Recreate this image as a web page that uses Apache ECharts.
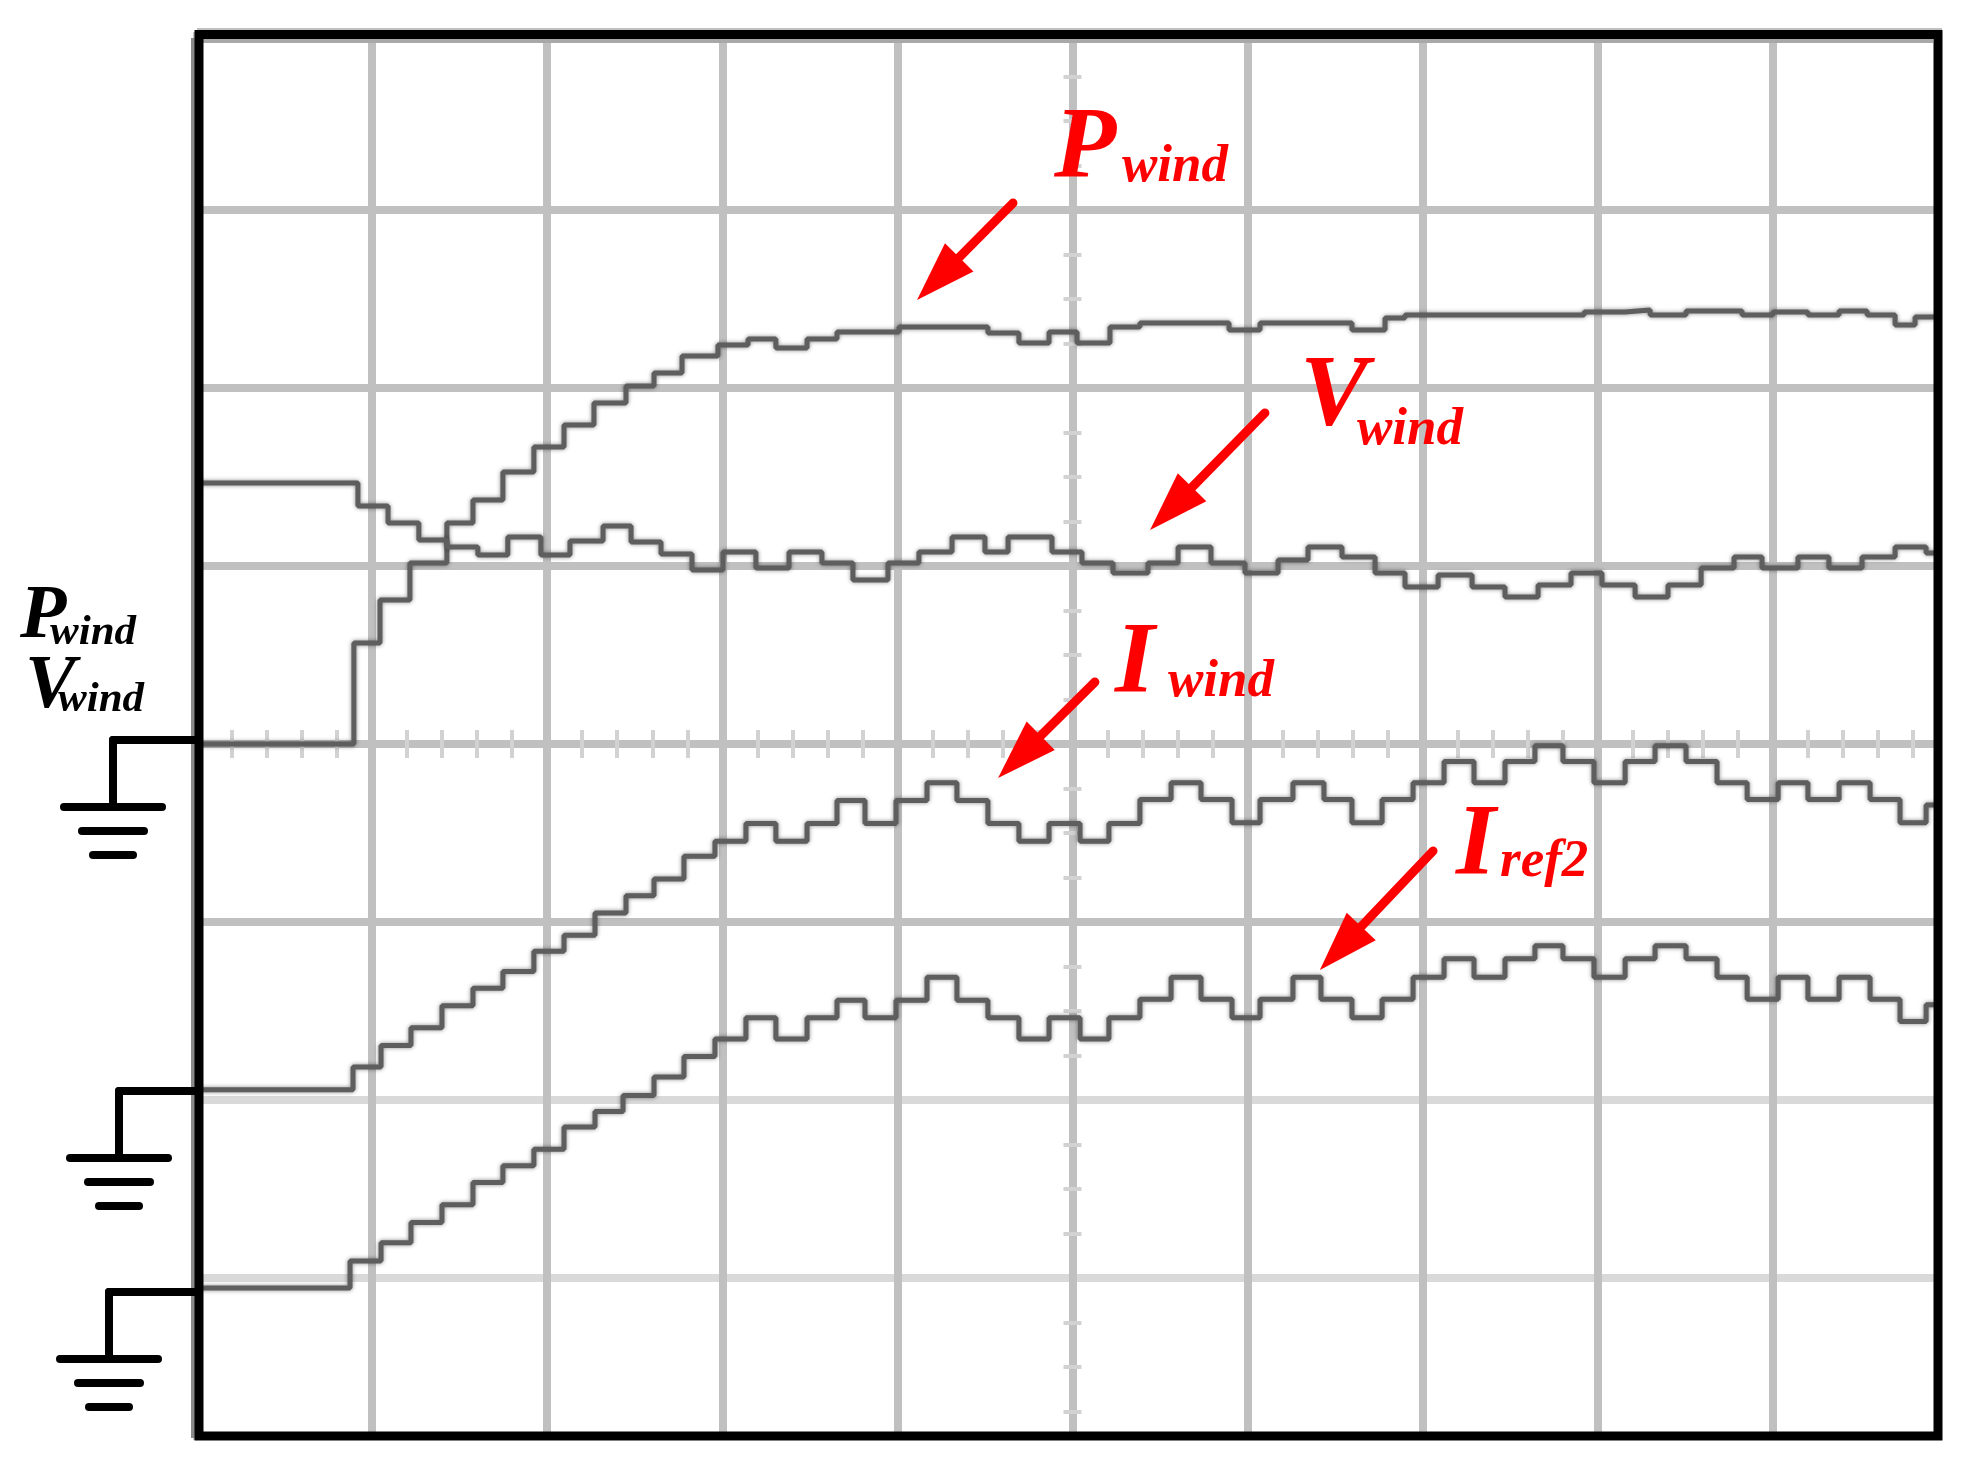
<!DOCTYPE html>
<html>
<head>
<meta charset="utf-8">
<script src="https://cdn.jsdelivr.net/npm/echarts@6/dist/echarts.min.js"></script>
<style>
  html, body { margin: 0; padding: 0; background: #fff; }
  #scope { width: 1977px; height: 1477px; }
</style>
</head>
<body>
<div id="scope"></div>
<script>
// scope traces: [time, level], both in screen divisions measured from the centre of the screen
const pwind = [[-5, 0], [-4.104, 0.567], [-3.955, 0.809], [-3.784, 1.017], [-3.573, 1.242], [-3.424, 1.371],
  [-3.253, 1.528], [-3.076, 1.669], [-2.904, 1.792], [-2.733, 1.916], [-2.550, 2.011], [-2.390, 2.084],
  [-2.230, 2.180], [-2.025, 2.242], [-1.853, 2.275], [-1.694, 2.225], [-1.516, 2.275], [-1.345, 2.315],
  [-0.991, 2.343], [-0.483, 2.309], [-0.306, 2.253], [-0.134, 2.315], [0.026, 2.253], [0.214, 2.343],
  [0.385, 2.365], [0.894, 2.326], [1.071, 2.365], [1.596, 2.326], [1.785, 2.393], [1.899, 2.410],
  [2.922, 2.427], [3.156, 2.438], [3.299, 2.410], [3.504, 2.433], [3.824, 2.410], [4.0, 2.427],
  [4.2, 2.410], [4.378, 2.433], [4.538, 2.410], [4.698, 2.354], [4.812, 2.399], [4.94, 2.399]];

const vwind = [[-5, 1.466], [-4.081, 1.337], [-3.909, 1.242], [-3.733, 1.146], [-3.573, 1.107], [-3.396, 1.062],
  [-3.225, 1.163], [-3.036, 1.062], [-2.870, 1.140], [-2.681, 1.225], [-2.521, 1.135], [-2.350, 1.067],
  [-2.173, 0.978], [-1.996, 1.079], [-1.808, 0.989], [-1.619, 1.079], [-1.431, 1.017], [-1.254, 0.921],
  [-1.054, 1.017], [-0.877, 1.079], [-0.688, 1.163], [-0.500, 1.079], [-0.368, 1.163], [-0.117, 1.079],
  [0.054, 1.017], [0.231, 0.961], [0.431, 1.017], [0.603, 1.107], [0.791, 1.017], [0.985, 0.961],
  [1.174, 1.034], [1.345, 1.107], [1.539, 1.051], [1.728, 0.961], [1.899, 0.882], [2.088, 0.949],
  [2.282, 0.882], [2.470, 0.826], [2.659, 0.893], [2.847, 0.961], [3.024, 0.893], [3.213, 0.826],
  [3.401, 0.893], [3.590, 0.989], [3.778, 1.051], [3.938, 0.989], [4.143, 1.051], [4.320, 0.989],
  [4.509, 1.051], [4.698, 1.107], [4.875, 1.073], [4.94, 1.073]];

const iwind = [[-5, -1.943], [-4.109, -1.815], [-3.949, -1.694], [-3.778, -1.594], [-3.601, -1.470],
  [-3.424, -1.372], [-3.253, -1.278], [-3.076, -1.164], [-2.904, -1.075], [-2.727, -0.950], [-2.550, -0.852],
  [-2.390, -0.759], [-2.219, -0.630], [-2.042, -0.547], [-1.865, -0.447], [-1.694, -0.547], [-1.516, -0.447],
  [-1.345, -0.318], [-1.185, -0.447], [-1.008, -0.318], [-0.831, -0.218], [-0.660, -0.318], [-0.483, -0.447],
  [-0.306, -0.547], [-0.134, -0.447], [0.043, -0.547], [0.208, -0.447], [0.385, -0.312], [0.563, -0.218],
  [0.734, -0.312], [0.911, -0.443], [1.071, -0.312], [1.259, -0.218], [1.436, -0.312], [1.596, -0.443],
  [1.768, -0.312], [1.945, -0.218], [2.122, -0.098], [2.293, -0.218], [2.470, -0.098], [2.641, -0.010],
  [2.801, -0.098], [2.978, -0.218], [3.156, -0.098], [3.327, -0.010], [3.504, -0.098], [3.681, -0.218],
  [3.853, -0.312], [4.030, -0.218], [4.200, -0.312], [4.378, -0.218], [4.555, -0.312], [4.726, -0.443],
  [4.875, -0.343], [4.94, -0.343]];

const iref2 = [[-5, -3.056], [-4.126, -2.904], [-3.949, -2.802], [-3.778, -2.688], [-3.601, -2.588],
  [-3.424, -2.463], [-3.253, -2.370], [-3.076, -2.276], [-2.904, -2.151], [-2.727, -2.064], [-2.567, -1.975],
  [-2.390, -1.871], [-2.219, -1.756], [-2.042, -1.657], [-1.865, -1.538], [-1.694, -1.657], [-1.516, -1.538],
  [-1.345, -1.440], [-1.185, -1.538], [-1.008, -1.440], [-0.831, -1.310], [-0.660, -1.440], [-0.483, -1.538],
  [-0.306, -1.657], [-0.134, -1.538], [0.043, -1.657], [0.208, -1.538], [0.385, -1.434], [0.563, -1.310],
  [0.734, -1.434], [0.911, -1.538], [1.071, -1.434], [1.259, -1.310], [1.419, -1.434], [1.596, -1.538],
  [1.768, -1.434], [1.945, -1.310], [2.122, -1.206], [2.293, -1.310], [2.470, -1.206], [2.641, -1.133],
  [2.801, -1.206], [2.978, -1.310], [3.156, -1.206], [3.327, -1.133], [3.504, -1.206], [3.681, -1.310],
  [3.853, -1.434], [4.030, -1.310], [4.200, -1.434], [4.378, -1.310], [4.555, -1.434], [4.726, -1.559],
  [4.875, -1.465], [4.94, -1.465]];

// channel ground levels (divisions)
const groundLevels = [0, -1.95, -3.05];

// arrow tails and tips (divisions), order: Pwind, Vwind, Iwind, Iref2
const arrowTails = [[-0.340, 3.039], [1.099, 1.860], [0.128, 0.348], [2.059, -0.601]];
const arrowTips = [[-0.888, 2.494], [0.443, 1.202], [-0.425, -0.191], [1.413, -1.270]];
const traceNames = [['P', 'wind'], ['V', 'wind'], ['I', 'wind'], ['I', 'ref2']];

const chart = echarts.init(document.getElementById('scope'));

const gridGray = '#c0c0c0';
const lightGray = '#d9d9d9';

function scopeAxis(min, max, position, minorSplit, minorLen) {
  return {
    type: 'value',
    min: min,
    max: max,
    interval: 1,
    position: position,
    axisLine: { show: true, onZero: true, lineStyle: { color: gridGray, width: 8 } },
    axisTick: { show: false },
    axisLabel: { show: false },
    minorTick: { show: true, splitNumber: minorSplit, length: minorLen, lineStyle: { color: '#d2d2d2', width: 4 } },
    splitLine: { show: false }
  };
}

const xMain = scopeAxis(-5, 5, 'bottom', 5, 14);
xMain.splitLine = { show: true, lineStyle: { color: gridGray, width: 8 } };
const yMain = scopeAxis(-4, 4, 'left', 4, 9);
yMain.splitLine = {
  show: true,
  lineStyle: { color: [gridGray, lightGray, lightGray, gridGray, gridGray, gridGray, gridGray, gridGray, gridGray], width: 8 }
};

function trace(data) {
  return {
    type: 'line',
    data: data,
    step: 'end',
    symbol: 'none',
    silent: true,
    z: 5,
    lineStyle: { color: '#5e5e5e', width: 5, shadowColor: 'rgba(0,0,0,0.45)', shadowBlur: 4 }
  };
}

chart.setOption({
  animation: false,
  backgroundColor: '#ffffff',
  grid: { left: 197, top: 32, width: 1751, height: 1424 },
  xAxis: [xMain, scopeAxis(-5, 5, 'top', 5, 14)],
  yAxis: [yMain, scopeAxis(-4, 4, 'right', 4, 9)],
  series: [trace(pwind), trace(vwind), trace(iwind), trace(iref2)]
});

// overlay: frame, grounds, arrows, labels
const g = [];
const serif = '"Liberation Serif", "Times New Roman", serif';

// hide grid beyond the photographed frame
g.push({ type: 'rect', shape: { x: 1942, y: 0, width: 40, height: 1477 }, style: { fill: '#fff' }, z: 90 });
g.push({ type: 'rect', shape: { x: 0, y: 1440, width: 1977, height: 40 }, style: { fill: '#fff' }, z: 90 });
// scope edge shading and black frame
g.push({ type: 'line', shape: { x1: 193, y1: 38, x2: 193, y2: 1438 }, style: { stroke: '#8a8a8a', lineWidth: 4 }, z: 95 });
g.push({ type: 'line', shape: { x1: 203, y1: 41, x2: 1933, y2: 41 }, style: { stroke: '#a8a8a8', lineWidth: 4 }, z: 95 });
g.push({ type: 'rect', shape: { x: 199, y: 34.5, width: 1739, height: 1401.5 },
  style: { fill: 'none', stroke: '#000', lineWidth: 9 }, z: 100 });

// ground symbols
const groundStemX = [113, 119, 109];
groundLevels.forEach(function (lv, i) {
  const p = chart.convertToPixel({ gridIndex: 0 }, [-5, lv]);
  const sx = groundStemX[i];
  const y0 = p[1] - (i === 0 ? 4 : (i === 2 ? -5 : 0));
  const ln = function (x1, y1, x2, y2) {
    g.push({ type: 'line', shape: { x1: x1, y1: y1, x2: x2, y2: y2 },
      style: { stroke: '#000', lineWidth: 8, lineCap: 'round' }, z: 100 });
  };
  ln(sx, y0, 198, y0);
  ln(sx, y0, sx, y0 + 67);
  ln(sx - 49, y0 + 67, sx + 49, y0 + 67);
  ln(sx - 31, y0 + 91, sx + 31, y0 + 91);
  ln(sx - 20, y0 + 115, sx + 20, y0 + 115);
});

// red arrows
arrowTails.forEach(function (tail, i) {
  const a = chart.convertToPixel({ gridIndex: 0 }, tail);
  const b = chart.convertToPixel({ gridIndex: 0 }, arrowTips[i]);
  const dx = b[0] - a[0], dy = b[1] - a[1];
  const len = Math.sqrt(dx * dx + dy * dy);
  const ux = dx / len, uy = dy / len;
  const bx = b[0] - ux * 60, by = b[1] - uy * 60;
  g.push({ type: 'line', shape: { x1: a[0], y1: a[1], x2: bx + ux * 6, y2: by + uy * 6 },
    style: { stroke: '#ff0000', lineWidth: 9, lineCap: 'round' }, z: 110 });
  g.push({ type: 'polygon', shape: { points: [[b[0], b[1]], [bx - uy * 20, by + ux * 20], [bx + uy * 20, by - ux * 20]] },
    style: { fill: '#ff0000' }, z: 110 });
});

// labels: big capital plus subscript, baseline positions in pixels
const capPos = [[1054, 185], [1300, 433], [1115, 700], [1456, 882]];
const subPos = [[1122, 185], [1357, 448], [1168, 700], [1500, 880]];
function label(text, x, base, size, color) {
  g.push({ type: 'text', x: x, y: base - 0.34 * size, z: 120,
    style: { text: text, fill: color, font: 'italic bold ' + size + 'px ' + serif,
      textAlign: 'left', verticalAlign: 'middle', textVerticalAlign: 'middle' } });
}
traceNames.forEach(function (nm, i) {
  label(nm[0], capPos[i][0], capPos[i][1], 102, '#ff0000');
  label(nm[1], subPos[i][0], subPos[i][1], 53, '#ff0000');
});
// black channel label on the left
label('P', 20, 643, 76, '#000');
label('wind', 50, 648, 43, '#000');
label('V', 25, 713, 76, '#000');
label('wind', 58, 715, 43, '#000');

chart.setOption({ graphic: { elements: g } });

window.addEventListener('resize', function () { chart.resize(); });
</script>
</body>
</html>
